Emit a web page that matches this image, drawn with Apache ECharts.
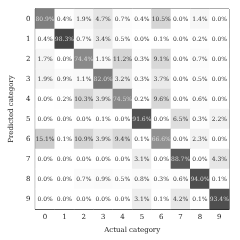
<!DOCTYPE html>
<html><head><meta charset="utf-8">
<script src="https://cdn.jsdelivr.net/npm/echarts@6/dist/echarts.min.js"></script>
<style>html,body{margin:0;padding:0;background:#fff}#c{width:240px;height:240px}</style>
</head><body><div id="c"></div>
<script>
const actualCategories = ['0','1','2','3','4','5','6','7','8','9'];
const predictedCategories = ['0','1','2','3','4','5','6','7','8','9'];
// rows = predicted category, columns = actual category (percent)
const row0 = [80.9, 0.4, 1.9, 4.7, 0.7, 0.4, 10.5, 0.0, 1.4, 0.0];
const row1 = [0.4, 98.3, 0.7, 3.4, 0.5, 0.0, 0.1, 0.0, 0.2, 0.0];
const row2 = [1.7, 0.0, 74.4, 1.1, 11.2, 0.3, 9.1, 0.0, 0.7, 0.0];
const row3 = [1.9, 0.9, 1.1, 82.0, 3.2, 0.3, 3.7, 0.0, 0.5, 0.0];
const row4 = [0.0, 0.2, 10.3, 3.9, 74.5, 0.2, 9.6, 0.0, 0.6, 0.0];
const row5 = [0.0, 0.0, 0.0, 0.1, 0.0, 91.6, 0.0, 6.5, 0.3, 2.2];
const row6 = [15.1, 0.1, 10.9, 3.9, 9.4, 0.1, 66.6, 0.0, 2.3, 0.0];
const row7 = [0.0, 0.0, 0.0, 0.0, 0.0, 3.1, 0.0, 88.7, 0.0, 4.3];
const row8 = [0.0, 0.0, 0.7, 0.9, 0.5, 0.8, 0.3, 0.6, 94.0, 0.1];
const row9 = [0.0, 0.0, 0.0, 0.0, 0.0, 3.1, 0.1, 4.2, 0.1, 93.4];
const matrix = [row0,row1,row2,row3,row4,row5,row6,row7,row8,row9];

const greyScale = ['#ffffff','#e2e2e2','#d6d6d6','#cccccc','#c4c4c4','#bdbdbd','#b6b6b6','#b0b0b0','#aaaaaa','#a5a5a5','#a0a0a0','#9c9c9c','#989898','#939393','#8d8d8d','#888888','#838383','#6a6a6a','#555555','#4c4c4c','#424242'];

const data = [];
matrix.forEach((row, y) => row.forEach((v, x) => {
  data.push({value: [x, y, v], label: {color: v > 50 ? '#dddddd' : '#333333'}});
}));

const font = '"DejaVu Serif", "Liberation Serif", serif';
const chart = echarts.init(document.getElementById('c'));
chart.setOption({
  animation: false,
  textStyle: {fontFamily: font},
  grid: {left: 30, top: 9, width: 199, height: 200, show: true, borderColor: '#222', borderWidth: 1, backgroundColor: 'transparent'},
  xAxis: {
    type: 'category', data: actualCategories, position: 'bottom',
    name: 'Actual category', nameLocation: 'middle', nameGap: 18,
    nameTextStyle: {fontFamily: font, fontSize: 7, color: '#222'},
    axisLine: {lineStyle: {color: '#222', width: 1}},
    axisTick: {alignWithLabel: true, length: 3, lineStyle: {color: '#222'}},
    axisLabel: {fontFamily: font, fontSize: 7, color: '#222', margin: 5},
    splitLine: {show: false}
  },
  yAxis: {
    type: 'category', data: predictedCategories, inverse: true,
    name: 'Predicted category', nameLocation: 'middle', nameGap: 17,
    nameTextStyle: {fontFamily: font, fontSize: 7, color: '#222'},
    axisLine: {lineStyle: {color: '#222', width: 1}},
    axisTick: {alignWithLabel: true, length: 3, lineStyle: {color: '#222'}},
    axisLabel: {fontFamily: font, fontSize: 7, color: '#222', margin: 5},
    splitLine: {show: false}
  },
  visualMap: {show: false, min: 0, max: 100, dimension: 2, inRange: {color: greyScale}},
  series: [{
    type: 'heatmap', data: data,
    label: {show: true, fontFamily: font, fontSize: 6, formatter: p => p.value[2].toFixed(1) + '%'},
    emphasis: {disabled: true}
  }]
});
</script></body></html>
